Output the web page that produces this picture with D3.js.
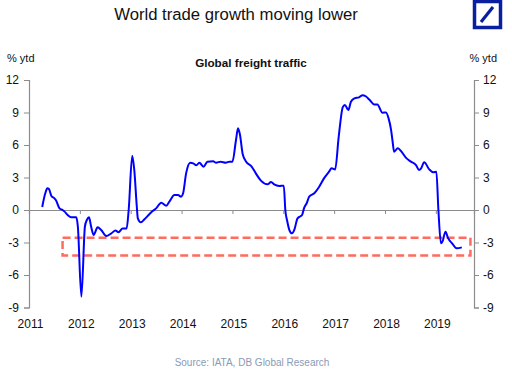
<!DOCTYPE html>
<html><head><meta charset="utf-8">
<script src="https://cdn.jsdelivr.net/npm/d3@7"></script>
<style>
html,body{margin:0;padding:0;background:#fff;}
svg{display:block;font-family:"Liberation Sans",Arial,sans-serif;}
</style></head>
<body><svg id="c" width="512" height="370"></svg>
<script>
const title = "World trade growth moving lower";
const subtitle = "Global freight traffic";
const unitLabel = "% ytd";
const source = "Source: IATA, DB Global Research";
const yTicks = [-9, -6, -3, 0, 3, 6, 9, 12];
const xTicks = [2011, 2012, 2013, 2014, 2015, 2016, 2017, 2018, 2019];
const times = [2011.26,2011.32,2011.36,2011.39,2011.44,2011.50,2011.53,2011.60,2011.66,2011.70,2011.76,2011.83,2011.93,2011.96,
2012.03,2012.10,2012.14,2012.18,2012.22,2012.27,2012.35,2012.42,2012.52,2012.62,2012.70,2012.76,2012.84,2012.92,2012.96,
2013.03,2013.07,2013.12,2013.14,2013.20,2013.27,2013.37,2013.43,2013.50,2013.60,2013.70,2013.76,2013.86,2013.93,2013.99,
2014.03,2014.09,2014.17,2014.23,2014.29,2014.35,2014.43,2014.51,2014.62,2014.68,2014.77,2014.87,2014.94,
2015.00,2015.07,2015.11,2015.15,2015.20,2015.27,2015.37,2015.46,2015.56,2015.69,2015.76,2015.82,2015.92,
2016.01,2016.04,2016.08,2016.12,2016.17,2016.22,2016.28,2016.33,2016.37,2016.41,2016.46,2016.51,2016.61,2016.70,2016.80,2016.90,2016.95,
2017.02,2017.09,2017.17,2017.21,2017.28,2017.33,2017.40,2017.49,2017.56,2017.62,2017.70,2017.79,2017.85,2017.95,
2018.02,2018.07,2018.12,2018.15,2018.18,2018.25,2018.31,2018.41,2018.51,2018.61,2018.67,2018.71,2018.77,2018.87,2018.95,
2019.01,2019.05,2019.10,2019.13,2019.19,2019.24,2019.32,2019.41,2019.51];
const values = [0.28,1.54,2.0,1.95,1.3,1.08,0.9,0.15,0.0,-0.15,-0.46,-0.68,-0.68,-1.5,
-8.0,-1.5,-0.9,-0.68,-1.5,-2.3,-1.6,-1.85,-2.4,-2.15,-1.9,-2.05,-1.7,-1.7,0,
5.0,3.7,0.3,-0.77,-1.14,-0.86,-0.37,-0.1,0.15,0.68,0.4,0.77,1.38,1.38,1.23,
1.54,3.4,4.37,4.3,4.12,4.37,4.0,4.46,4.5,4.37,4.46,4.37,4.46,
4.46,6.46,7.54,6.9,5.2,4.46,4.06,3.38,2.71,2.37,2.58,2.37,2.22,
2.25,0,-1.08,-1.85,-2.15,-1.78,-0.77,-0.6,-0.46,0.2,0.62,1.23,1.54,2.1,2.92,3.54,3.85,
3.75,6.77,9.5,9.7,9.23,10.0,10.3,10.4,10.6,10.5,10.15,9.75,9.75,8.98,
9.0,8.46,7.38,6.3,5.38,5.69,5.47,4.83,4.46,4.15,3.69,3.85,4.4,3.75,3.48,
3.54,0,-3.08,-2.92,-2.0,-2.6,-3.08,-3.54,-3.45];
// highlight box (data units)
const boxX = [2011.66, 2019.68];
const boxY = [-2.55, -4.2];

const svg = d3.select("#c");
const x = d3.scaleLinear().domain([2011, 2019.75]).range([29, 474]);
const y = d3.scaleLinear().domain([-9, 12]).range([307.5, 80]);
const axisCol = "#8c8c8c";

// title
svg.append("text").attr("x", 236).attr("y", 20).attr("text-anchor", "middle")
  .attr("font-size", 16.7).attr("fill", "#111").text(title);
svg.append("text").attr("x", 251).attr("y", 67).attr("text-anchor", "middle")
  .attr("font-size", 11.7).attr("font-weight", "bold").attr("fill", "#111").text(subtitle);
svg.append("text").attr("x", 7).attr("y", 62).attr("font-size", 11).attr("fill", "#111").text(unitLabel);
svg.append("text").attr("x", 497).attr("y", 62).attr("text-anchor", "end").attr("font-size", 11).attr("fill", "#111").text(unitLabel);

// logo
const logo = svg.append("g");
logo.append("rect").attr("x", 474.5).attr("y", 1.5).attr("width", 26).attr("height", 26).attr("fill", "none").attr("stroke", "#0a1fa0").attr("stroke-width", 3.5);
logo.append("line").attr("x1", 481).attr("y1", 22).attr("x2", 493).attr("y2", 7).attr("stroke", "#0a1fa0").attr("stroke-width", 3.2);

// left axis
const gl = svg.append("g").attr("transform", `translate(${x.range()[0]},0)`)
  .call(d3.axisLeft(y).tickValues(yTicks).tickSize(5).tickPadding(5).tickFormat(d3.format("d")));
const gr = svg.append("g").attr("transform", `translate(${x.range()[1]},0)`)
  .call(d3.axisRight(y).tickValues(yTicks).tickSize(5).tickPadding(4).tickFormat(d3.format("d")));
[gl, gr].forEach(g => {
  g.select(".domain").attr("stroke", axisCol).attr("stroke-width", 1.2);
  g.selectAll(".tick line").attr("stroke", axisCol);
  g.selectAll(".tick text").attr("font-size", 12).attr("fill", "#111")
   .attr("font-family", "Liberation Sans, Arial, sans-serif").text(d => d < 0 ? "-" + Math.abs(d) : d);
});

// zero line with year ticks
const gx = svg.append("g").attr("transform", `translate(0,${y(0)})`)
  .call(d3.axisBottom(x).tickValues(xTicks).tickSize(4).tickFormat(""));
gx.select(".domain").attr("stroke", axisCol).attr("stroke-width", 1.2);
gx.selectAll(".tick line").attr("stroke", axisCol);

// year labels
svg.append("g").selectAll("text").data(xTicks).join("text")
  .attr("x", d => x(d) + 1.5).attr("y", y(-9) + 20).attr("text-anchor", "middle")
  .attr("font-size", 12).attr("fill", "#111").text(d => d);

// highlight box
svg.append("rect").attr("x", x(boxX[0])).attr("y", y(boxY[0]))
  .attr("width", x(boxX[1]) - x(boxX[0])).attr("height", y(boxY[1]) - y(boxY[0]))
  .attr("fill", "none").attr("stroke", "#ff6b5e").attr("stroke-width", 2.5)
  .attr("stroke-dasharray", "8,4");

// line
const data = times.map((t, i) => [t, values[i]]);
svg.append("path").datum(data)
  .attr("d", d3.line().x(d => x(d[0])).y(d => y(d[1])).curve(d3.curveMonotoneX))
  .attr("fill", "none").attr("stroke", "#0000ff").attr("stroke-width", 2).attr("stroke-linejoin", "round");

// source
svg.append("text").attr("x", 252).attr("y", 366).attr("text-anchor", "middle")
  .attr("font-size", 10).attr("fill", "#8a9ab5").text(source);
</script></body></html>
